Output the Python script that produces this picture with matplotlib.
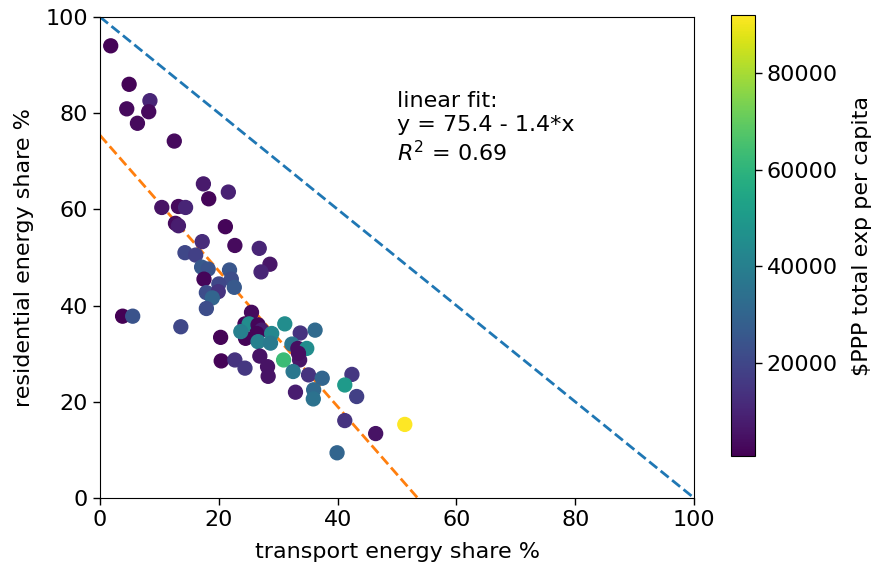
import matplotlib
matplotlib.use("Agg")
import matplotlib.pyplot as plt
import numpy as np


# transport share %, residential share %, $PPP total expenditure per capita
transport = [
    1.8, 4.9, 4.5, 8.4, 8.2, 6.3, 12.5, 17.4, 18.3, 21.6,
    10.4, 13.2, 14.4, 12.7, 13.2, 21.1, 17.2, 22.7, 26.8, 14.3,
    16.1, 28.6, 27.1, 17.1, 18.2, 21.8, 17.5, 22.1, 20.0, 22.6,
    17.9, 19.9, 18.9, 17.9, 3.8, 5.5, 13.6, 20.3, 24.5, 25.5,
    24.4, 25.1, 23.7, 26.6, 27.2, 26.4, 28.9, 26.6, 28.7, 31.1,
    33.7, 36.2, 20.4, 22.7, 24.4, 26.9, 28.2, 28.3, 30.9, 32.3,
    33.3, 34.8, 33.6, 33.4, 32.5, 35.1, 37.4, 32.9, 35.96, 35.9,
    42.4, 41.2, 43.2, 41.2, 46.4, 39.9, 51.3,
]

residential = [
    94.0, 86.0, 80.9, 82.6, 80.3, 77.9, 74.2, 65.3, 62.2, 63.6,
    60.4, 60.6, 60.4, 57.1, 56.6, 56.4, 53.3, 52.5, 51.9, 51.0,
    50.5, 48.6, 47.0, 48.0, 47.6, 47.4, 45.5, 45.5, 44.5, 43.8,
    42.7, 42.9, 41.6, 39.4, 37.8, 37.8, 35.6, 33.4, 33.2, 38.6,
    36.2, 36.2, 34.6, 36.0, 34.9, 34.2, 34.2, 32.5, 32.2, 36.2,
    34.3, 34.9, 28.5, 28.7, 27.0, 29.5, 27.3, 25.3, 28.7, 32.0,
    31.1, 31.1, 28.7, 30.1, 26.3, 25.6, 24.9, 22.0, 22.5, 20.6,
    25.7, 23.5, 21.1, 16.1, 13.4, 9.4, 15.3,
]

expenditure = [
    1500, 1500, 3000, 10000, 3000, 3000, 3000, 7000, 2000, 9000,
    5000, 3000, 10000, 3000, 8000, 2000, 12000, 3000, 10000, 20000,
    18000, 6000, 10000, 26000, 24000, 25000, 2000, 22000, 20000, 26000,
    22000, 14000, 30000, 22000, 700, 24000, 20000, 1500, 1500, 3000,
    2000, 45000, 40000, 2000, 8000, 1500, 43000, 40000, 38000, 45000,
    14000, 32000, 1500, 14000, 15000, 5000, 5000, 5000, 63000, 37000,
    4000, 45000, 6000, 4000, 37000, 14000, 30000, 8000, 32000, 35000,
    15000, 50000, 18000, 14000, 5000, 30000, 92000,
]

# fit constants as shown in the annotation
fit_intercept = 75.4
fit_slope = -1.41
fit_r2 = 0.69

axis_range = [0, 100]
FS = 16


def plot_shares(ax, cax):

    sc = ax.scatter(
        transport, residential,
        c = expenditure, cmap = "viridis",
        s = 100, zorder = 3
        )

    xs = np.array(axis_range, dtype = float)
    ax.plot(xs, axis_range[1] - xs, ls = "--", lw = 2, color = "C0")
    ax.plot(xs, fit_intercept + fit_slope * xs, ls = "--", lw = 2, color = "C1")

    ax.text(
        50, 70,
        "linear fit:\n"
        f"y = {fit_intercept:.1f} - {abs(fit_slope):.1f}*x\n"
        f"$R^2$ = {fit_r2:.2f}",
        fontsize = FS, linespacing = 1.25
        )

    ax.set(
        xlim = axis_range,
        ylim = axis_range,
        xticks = np.arange(0, 101, 20),
        yticks = np.arange(0, 101, 20),
        )
    ax.set_xlabel("transport energy share %", fontsize = FS, labelpad = 9)
    ax.set_ylabel("residential energy share %", fontsize = FS, labelpad = 8)
    ax.tick_params(labelsize = FS, length = 5, width = 1)

    cb = plt.colorbar(sc, cax = cax)
    cb.set_ticks([20000, 40000, 60000, 80000])
    cb.ax.tick_params(labelsize = FS, length = 5, width = 1)
    cb.set_label(r"\$PPP total exp per capita", fontsize = FS, labelpad = 10)
    return ax


fig = plt.figure(figsize = (8.72, 5.71), dpi = 100)
ax = fig.add_axes([0.1147, 0.1278, 0.6813, 0.8425])
cax = fig.add_axes([0.838, 0.2014, 0.0275, 0.7723])

plot_shares(ax, cax)

fig.savefig("out.png", dpi = 100)
